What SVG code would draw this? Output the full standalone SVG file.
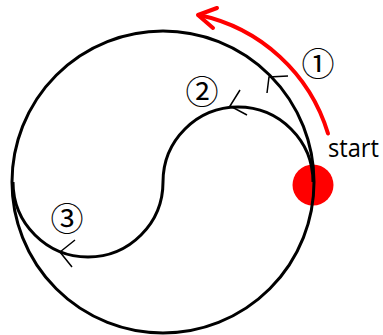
<svg xmlns="http://www.w3.org/2000/svg" width="383" height="335" viewBox="0 0 383 335">
<style>
.curve{fill:none;stroke:#000;stroke-width:3}
.tick{fill:none;stroke:#000;stroke-width:1.5}
.red{fill:none;stroke:#f00;stroke-width:4;stroke-linecap:round;stroke-linejoin:round}
.num{font-family:"Noto Sans CJK JP","DejaVu Sans",sans-serif;font-size:33px;fill:#000;text-anchor:middle;dominant-baseline:central}
.lbl{font-family:"Open Sans","Liberation Sans",sans-serif;font-size:25px;fill:#000}
</style>
<rect width="383" height="335" fill="#fff"/>
<g id="start-node">
<circle cx="313" cy="185" r="20.5" fill="#f00"/>
<text class="lbl" x="328" y="157" textLength="51" lengthAdjust="spacingAndGlyphs">start</text>
</g>
<g id="connectors">
<circle class="curve" cx="163" cy="182" r="151"/>
<path class="curve" d="M313 182 A75 75 0 0 0 163 182 A75 75 0 0 1 13 182"/>
<polyline class="tick" points="288,76 269,77 267,93"/>
<polyline class="tick" points="240,90 230,106 247,115"/>
<polyline class="tick" points="75,240 60,252 72,267"/>
<path class="red" d="M328 133.5 A172 172 0 0 0 199 15"/>
<polyline class="red" points="217,8 198,15 213,28"/>
</g>
<g id="label-1"><text class="num" x="318" y="62">①</text></g>
<g id="label-2"><text class="num" x="202" y="90">②</text></g>
<g id="label-3"><text class="num" x="67" y="217">③</text></g>
</svg>
